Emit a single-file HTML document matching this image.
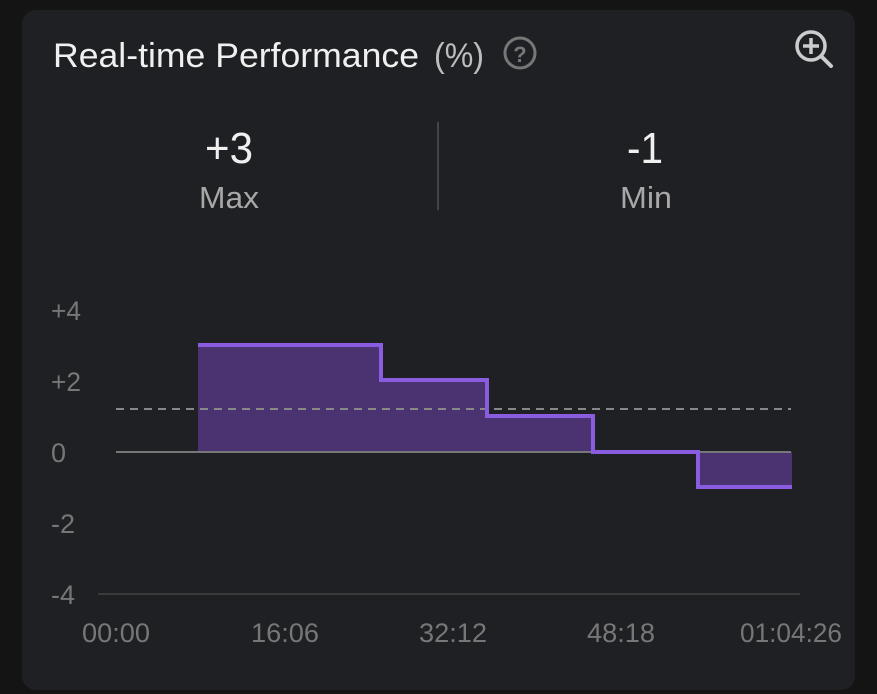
<!DOCTYPE html>
<html><head><style>
body{margin:0;width:877px;height:694px;background:#141414;overflow:hidden;font-family:"Liberation Sans",sans-serif}
.card{position:absolute;left:22px;top:10px;width:833px;height:680px;background:#1f2023;border-radius:14px}
svg{position:absolute;left:0;top:0}
</style></head><body>
<div class="card"></div>
<svg width="877" height="694" viewBox="0 0 877 694">
<text x="53" y="67" font-size="34" fill="#f0f0f0" textLength="366" lengthAdjust="spacingAndGlyphs">Real-time Performance</text>
<text x="434" y="67" font-size="34" fill="#bdbdbd" textLength="50" lengthAdjust="spacingAndGlyphs">(%)</text>
<circle cx="520" cy="53" r="15" fill="none" stroke="#777" stroke-width="3"/>
<text x="520" y="62" font-size="22" font-weight="bold" fill="#777" text-anchor="middle">?</text>
<circle cx="811" cy="46" r="14" fill="none" stroke="#ccc" stroke-width="3.5"/>
<line x1="821" y1="56" x2="831" y2="66" stroke="#ccc" stroke-width="4" stroke-linecap="round"/>
<line x1="811" y1="38" x2="811" y2="54" stroke="#ccc" stroke-width="3.5"/>
<line x1="803" y1="46" x2="819" y2="46" stroke="#ccc" stroke-width="3.5"/>
<text x="229" y="163" font-size="44" fill="#f0f0f0" text-anchor="middle" textLength="48" lengthAdjust="spacingAndGlyphs">+3</text>
<text x="229" y="208" font-size="31" fill="#a8a8a8" text-anchor="middle" textLength="60" lengthAdjust="spacingAndGlyphs">Max</text>
<line x1="438" y1="122" x2="438" y2="210" stroke="#444" stroke-width="2"/>
<text x="645" y="163" font-size="44" fill="#f0f0f0" text-anchor="middle" textLength="36" lengthAdjust="spacingAndGlyphs">-1</text>
<text x="646" y="208" font-size="31" fill="#a8a8a8" text-anchor="middle" textLength="52" lengthAdjust="spacingAndGlyphs">Min</text>
<g font-size="27" fill="#777">
<text x="51" y="320" textLength="30" lengthAdjust="spacingAndGlyphs">+4</text><text x="51" y="391" textLength="30" lengthAdjust="spacingAndGlyphs">+2</text><text x="51" y="462">0</text><text x="51" y="533">-2</text><text x="51" y="604">-4</text>
</g>
<g font-size="27" fill="#777" text-anchor="middle">
<text x="116" y="642" textLength="68" lengthAdjust="spacingAndGlyphs">00:00</text><text x="285" y="642" textLength="68" lengthAdjust="spacingAndGlyphs">16:06</text><text x="453" y="642" textLength="68" lengthAdjust="spacingAndGlyphs">32:12</text><text x="621" y="642" textLength="68" lengthAdjust="spacingAndGlyphs">48:18</text><text x="791" y="642" textLength="102" lengthAdjust="spacingAndGlyphs">01:04:26</text>
</g>
<line x1="98" y1="594" x2="800" y2="594" stroke="#3a3a3a" stroke-width="2"/>
<path d="M198 452V345H381V380H487V416H593V452H698V487H792V452Z" fill="#4a3370"/>
<line x1="116" y1="452" x2="791" y2="452" stroke="#777" stroke-width="2"/>
<line x1="116" y1="409" x2="791" y2="409" stroke="#888" stroke-width="2" stroke-dasharray="8,6"/>
<path d="M198 345H381V380H487V416H593V452H698V487H792" fill="none" stroke="#8a5ce0" stroke-width="4"/>
</svg>
</body></html>
